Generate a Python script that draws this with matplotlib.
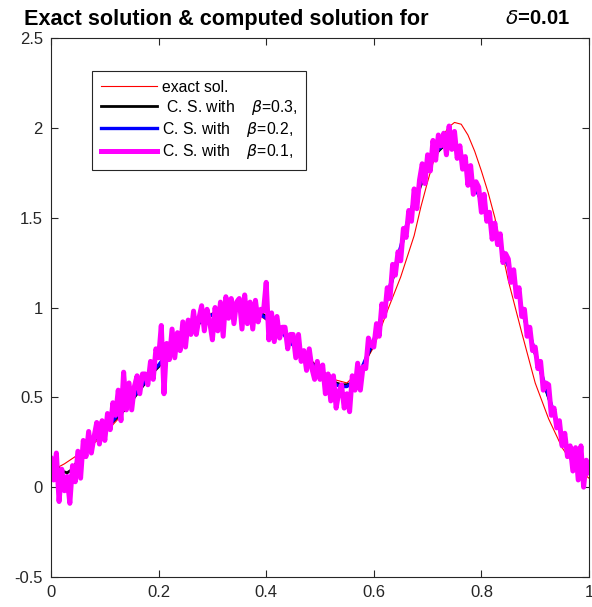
import numpy as np
import matplotlib
matplotlib.use("Agg")
import matplotlib.pyplot as plt

plt.rcParams["font.family"] = ["Liberation Sans", "DejaVu Sans"]
plt.rcParams["mathtext.fontset"] = "dejavusans"

# exact solution (denser sampling around the peak)
x_exact = [0.000, 0.025, 0.050, 0.075, 0.100, 0.125, 0.150, 0.175, 0.200,
           0.225, 0.250, 0.275, 0.300, 0.325, 0.350, 0.375, 0.400, 0.425,
           0.450, 0.475, 0.500, 0.525, 0.550, 0.575, 0.600, 0.625, 0.650,
           0.675, 0.6875, 0.700, 0.7125, 0.725, 0.7375, 0.750, 0.7625,
           0.775, 0.7875, 0.800, 0.8125, 0.825, 0.850, 0.875, 0.900, 0.925,
           0.950, 0.975, 1.000]
u_exact = [0.09, 0.13, 0.18, 0.23, 0.30, 0.38, 0.48, 0.58, 0.68,
           0.77, 0.85, 0.92, 0.97, 0.99, 1.00, 0.98, 0.93, 0.87,
           0.80, 0.73, 0.66, 0.60, 0.58, 0.65, 0.78, 0.98, 1.17,
           1.40, 1.56, 1.70, 1.83, 1.93, 2.00, 2.03, 2.02,
           1.96, 1.87, 1.76, 1.64, 1.50, 1.15, 0.86, 0.58, 0.38,
           0.22, 0.11, 0.05]

# computed solutions, beta = 0.3 and 0.2, sampled every 0.01
x_mid = np.linspace(0, 1, 101)
u_b03 = [0.15, 0.12, 0.09, 0.08, 0.10, 0.15, 0.20, 0.23, 0.26, 0.29,
         0.32, 0.35, 0.38, 0.41, 0.44, 0.48, 0.52, 0.56, 0.60, 0.64,
         0.67, 0.71, 0.74, 0.78, 0.81, 0.84, 0.87, 0.90, 0.92, 0.94,
         0.96, 0.97, 0.98, 0.99, 1.00, 1.00, 1.00, 0.99, 0.98, 0.97,
         0.95, 0.92, 0.89, 0.86, 0.83, 0.80, 0.77, 0.74, 0.71, 0.68,
         0.65, 0.62, 0.60, 0.58, 0.57, 0.57, 0.58, 0.62, 0.67, 0.74,
         0.81, 0.89, 0.99, 1.10, 1.21, 1.32, 1.43, 1.53, 1.62, 1.70,
         1.77, 1.83, 1.87, 1.90, 1.92, 1.91, 1.87, 1.81, 1.74, 1.66,
         1.59, 1.52, 1.45, 1.38, 1.31, 1.23, 1.15, 1.06, 0.93, 0.84,
         0.74, 0.64, 0.54, 0.45, 0.36, 0.28, 0.21, 0.16, 0.12, 0.10,
         0.10]
u_b02 = [0.14, 0.11, 0.07, 0.05, 0.07, 0.13, 0.19, 0.23, 0.27, 0.30,
         0.33, 0.35, 0.39, 0.42, 0.45, 0.49, 0.53, 0.57, 0.61, 0.65,
         0.68, 0.72, 0.75, 0.79, 0.82, 0.85, 0.88, 0.90, 0.93, 0.95,
         0.96, 0.98, 0.99, 1.00, 1.00, 1.01, 1.00, 0.99, 0.98, 0.96,
         0.94, 0.92, 0.89, 0.86, 0.82, 0.79, 0.76, 0.73, 0.70, 0.67,
         0.64, 0.61, 0.59, 0.57, 0.56, 0.56, 0.58, 0.62, 0.68, 0.75,
         0.82, 0.91, 1.01, 1.12, 1.23, 1.34, 1.45, 1.55, 1.64, 1.72,
         1.79, 1.84, 1.88, 1.91, 1.92, 1.90, 1.86, 1.80, 1.73, 1.66,
         1.59, 1.52, 1.45, 1.38, 1.31, 1.23, 1.15, 1.06, 0.94, 0.85,
         0.75, 0.65, 0.55, 0.46, 0.37, 0.29, 0.22, 0.16, 0.11, 0.09,
         0.10]

# computed solution, beta = 0.1, sampled every 0.005
x_fine = np.linspace(0, 1, 201)
u_b01 = [0.16, 0.04, 0.19, -0.08, 0.10, -0.02, 0.06, -0.09, 0.12, 0.03,
         0.20, 0.05, 0.26, 0.17, 0.31, 0.19, 0.28, 0.36, 0.24, 0.37,
         0.26, 0.41, 0.32, 0.47, 0.40, 0.54, 0.37, 0.64, 0.43, 0.58,
         0.43, 0.56, 0.62, 0.52, 0.63, 0.63, 0.57, 0.70, 0.60, 0.77,
         0.72, 0.90, 0.52, 0.80, 0.71, 0.88, 0.72, 0.86, 0.76, 0.92,
         0.78, 0.93, 0.85, 0.98, 0.85, 0.94, 1.01, 0.87, 0.99, 0.92,
         0.82, 1.00, 0.87, 1.03, 0.84, 1.06, 0.94, 1.05, 0.91, 1.03,
         1.05, 0.88, 1.07, 0.91, 1.03, 0.88, 1.04, 0.92, 0.99, 0.98,
         1.14, 0.82, 0.97, 0.81, 0.95, 0.83, 0.89, 0.89, 0.77, 0.85,
         0.85, 0.72, 0.85, 0.70, 0.76, 0.65, 0.77, 0.66, 0.60, 0.70,
         0.60, 0.68, 0.52, 0.63, 0.48, 0.62, 0.44, 0.53, 0.57, 0.44,
         0.52, 0.42, 0.62, 0.54, 0.69, 0.54, 0.67, 0.66, 0.83, 0.79,
         0.78, 0.91, 0.84, 1.02, 0.95, 1.11, 1.05, 1.24, 1.18, 1.31,
         1.26, 1.44, 1.39, 1.54, 1.48, 1.66, 1.55, 1.71, 1.80, 1.69,
         1.85, 1.76, 1.93, 1.82, 1.96, 1.90, 1.97, 1.85, 2.01, 1.88,
         1.98, 1.83, 1.90, 1.77, 1.84, 1.68, 1.79, 1.63, 1.70, 1.67,
         1.53, 1.63, 1.48, 1.53, 1.38, 1.47, 1.35, 1.41, 1.25, 1.30,
         1.27, 1.14, 1.21, 1.06, 1.11, 0.95, 0.99, 0.84, 0.89, 0.76,
         0.78, 0.66, 0.70, 0.54, 0.58, 0.57, 0.40, 0.44, 0.33, 0.37,
         0.23, 0.30, 0.17, 0.23, 0.09, 0.22, 0.04, 0.23, 0.00, 0.15,
         0.08]

x_ticks = [0, 0.2, 0.4, 0.6, 0.8, 1]
x_labels = ["0", "0.2", "0.4", "0.6", "0.8", "1"]
y_ticks = [-0.5, 0, 0.5, 1, 1.5, 2, 2.5]
y_labels = ["-0.5", "0", "0.5", "1", "1.5", "2", "2.5"]

fig = plt.figure(figsize=(5.92, 6.07), dpi=100)
ax = fig.add_axes([51 / 592, 30 / 607, 538 / 592, 539 / 607])

ax.plot(x_exact, u_exact, color="red", lw=0.8, label="exact sol.")
ax.plot(x_mid, u_b03, color="black", lw=2.0,
        label=r" C. S. with    $\beta$=0.3,")
ax.plot(x_mid, u_b02, color="blue", lw=2.4,
        label=r"C. S. with    $\beta$=0.2,")
ax.plot(x_fine, u_b01, color="magenta", lw=3.6,
        label=r"C. S. with    $\beta$=0.1,")

ax.set_xlim(0, 1)
ax.set_ylim(-0.5, 2.5)
ax.set_xticks(x_ticks, x_labels)
ax.set_yticks(y_ticks, y_labels)
ax.tick_params(direction="in", length=5, width=0.8, top=True, right=True,
               labelsize=12, colors="#262626", pad=5.8)
for s in ax.spines.values():
    s.set_linewidth(0.8)
    s.set_color("#262626")

leg = ax.legend(loc="upper left", bbox_to_anchor=(0.0761, 0.9388),
                fontsize=11.3, handlelength=3.57, handletextpad=0.32,
                labelspacing=0.2, borderpad=0.55, fancybox=False,
                framealpha=1, edgecolor="#262626", borderaxespad=0)
leg.get_frame().set_linewidth(0.8)

fig.text(24 / 592, 1 - 19 / 607, "Exact solution & computed solution for",
         fontsize=15.6, fontweight="bold", ha="left", va="center")
fig.text(570 / 592, 1 - 19 / 607, r"$\delta$=0.01",
         fontsize=14.6, fontweight="bold", ha="right", va="center")

fig.savefig("out.png", dpi=100)
